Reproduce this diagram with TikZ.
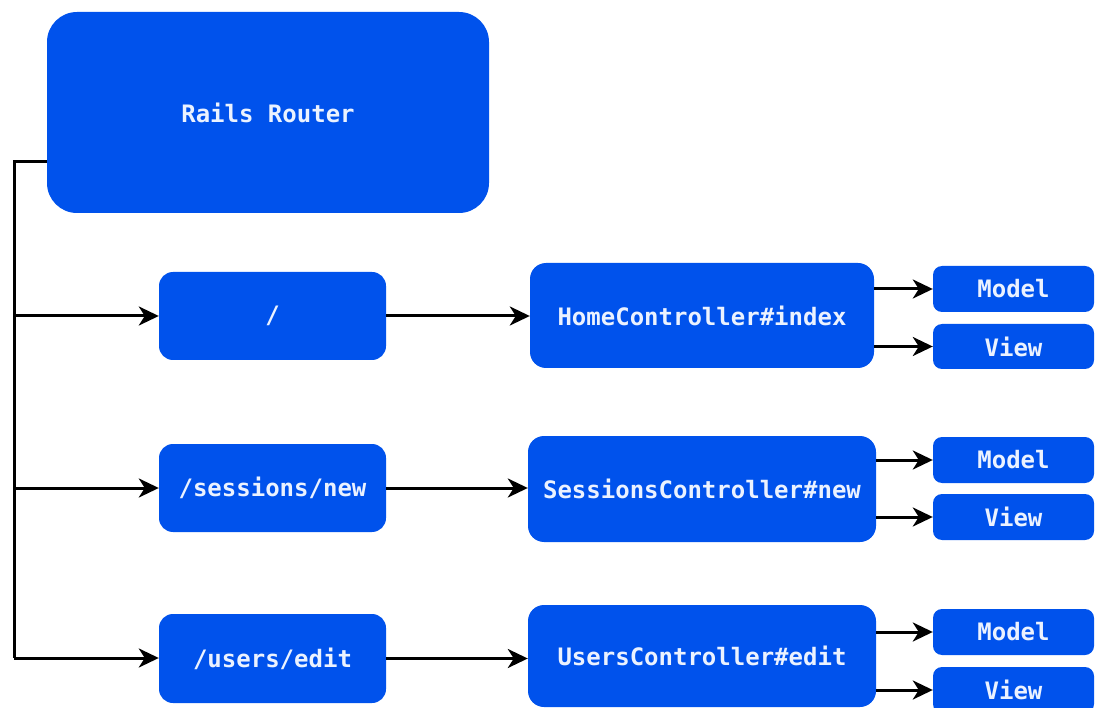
\documentclass[tikz,border=0pt]{standalone}
\usepackage{fontspec}
\setmonofont{DejaVu Sans Mono}
\usetikzlibrary{arrows.meta}
\definecolor{boxblue}{RGB}{0,82,236}
\definecolor{boxtext}{RGB}{235,242,255}
\begin{document}
\begin{tikzpicture}[x=1pt,y=-1pt,
  box/.style={fill=boxblue, draw=none, text=boxtext, font=\ttfamily\bfseries\fontsize{24}{28}\selectfont, rounded corners=16pt, inner sep=0pt},
  conn/.style={line width=3pt, draw=black, -{Stealth[length=20pt,width=19pt,inset=6pt]}},
  plain/.style={line width=3pt, draw=black}]
\useasboundingbox (0,0) rectangle (1095,708);
\clip (0,0) rectangle (1095,708);
% main router
\node[box, rounded corners=30pt, minimum width=442pt, minimum height=201pt] (router) at (268,112.5) {Rails Router};
% routes
\node[box, rounded corners=14pt, minimum width=227pt, minimum height=88pt] (r1) at (272.5,316) {/};
\node[box, rounded corners=14pt, minimum width=227pt, minimum height=88pt] (r2) at (272.5,488) {/sessions/new};
\node[box, rounded corners=14pt, minimum width=227pt, minimum height=89pt] (r3) at (272.5,658.5) {/users/edit};
% controllers
\node[box, minimum width=344pt, minimum height=105pt] (c1) at (702,315.5) {HomeController\#index};
\node[box, minimum width=348pt, minimum height=106pt] (c2) at (702,489) {SessionsController\#new};
\node[box, minimum width=348pt, minimum height=102pt] (c3) at (702,656) {UsersController\#edit};
% model / view
\node[box, rounded corners=9pt, minimum width=161pt, minimum height=46pt] (m1) at (1013.5,289) {Model};
\node[box, rounded corners=9pt, minimum width=161pt, minimum height=45pt] (v1) at (1013.5,346.5) {View};
\node[box, rounded corners=9pt, minimum width=161pt, minimum height=46pt] (m2) at (1013.5,460) {Model};
\node[box, rounded corners=9pt, minimum width=161pt, minimum height=46pt] (v2) at (1013.5,517) {View};
\node[box, rounded corners=9pt, minimum width=161pt, minimum height=46pt] (m3) at (1013.5,632) {Model};
\node[box, rounded corners=9pt, minimum width=161pt, minimum height=46pt] (v3) at (1013.5,690) {View};
% trunk
\coordinate (t0) at (14,162);
\coordinate (t1) at (14,316);
\coordinate (t2) at (14,488);
\coordinate (t3) at (14,658);
\draw[plain] (router.west |- t0) -- (t0) -- (t3);
\draw[conn] (t1) -- (r1.west |- t1);
\draw[conn] (t2) -- (r2.west |- t2);
\draw[conn] (t3) -- (r3.west |- t3);
% route to controller
\draw[conn] (r1.east) -- (c1.west |- r1.east);
\draw[conn] (r2.east) -- (c2.west |- r2.east);
\draw[conn] (r3.east) -- (c3.west |- r3.east);
% controller to model/view
\draw[conn] (c1.east |- m1) -- (m1.west);
\draw[conn] (c1.east |- v1) -- (v1.west);
\draw[conn] (c2.east |- m2) -- (m2.west);
\draw[conn] (c2.east |- v2) -- (v2.west);
\draw[conn] (c3.east |- m3) -- (m3.west);
\draw[conn] (c3.east |- v3) -- (v3.west);
\end{tikzpicture}
\end{document}
